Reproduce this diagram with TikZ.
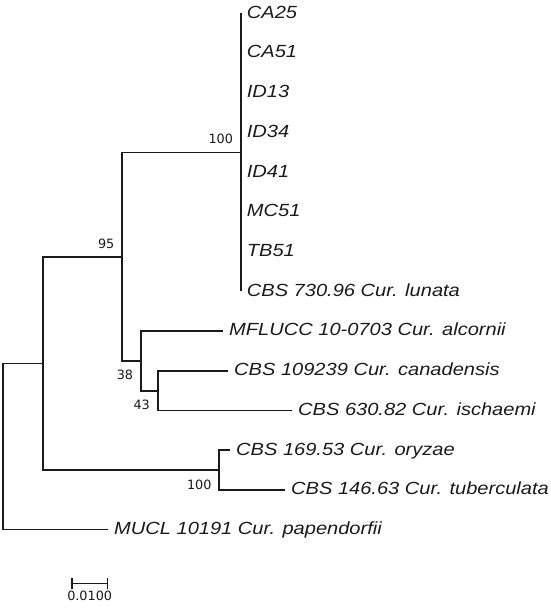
\documentclass[tikz,border=0pt]{standalone}
\usepackage{fontspec}
\newfontfamily\leaffont[FakeStretch=1.14]{Liberation Sans}
\newfontfamily\bootfont{DejaVu Sans}
\usetikzlibrary{arrows.meta,positioning}
\definecolor{treegray}{HTML}{1A1A1A}
\tikzset{
  branch/.style={line width=1.7pt, draw=treegray},
  scalebar/.style={{Bar[width=11pt]}-{Bar[width=11pt]}, line width=1.6pt, draw=treegray},
}

\begin{document}
\begin{tikzpicture}[
  x=1pt, y=-1pt,
  leaf/.style={anchor=west, inner xsep=6pt, inner ysep=0pt, text height=12.6pt, text depth=3pt,
    font=\leaffont\itshape\fontsize{17.6}{20}\selectfont, text=treegray},
  boot/.style={inner sep=0pt, font=\bootfont\fontsize{12.8}{14}\selectfont, text=treegray},
]
  \useasboundingbox (0,0) rectangle (550,610);
  \foreach \n/\t [count=\i from 0] in {ca25/CA25, ca51/CA51, id13/ID13, id34/ID34, id41/ID41,
      mc51/MC51, tb51/TB51, cbs73096/CBS 730.96 Cur. lunata}
    \node[leaf] (\n) at (240.7, 13.5+39.7*\i) {\t};
  \node[leaf] (mflucc) at (223,331.1) {MFLUCC 10-0703 Cur. alcornii};
  \node[leaf] (cbs109239) at (228,370.8) {CBS 109239 Cur. canadensis};
  \node[leaf] (cbs63082) at (292,410.5) {CBS 630.82 Cur. ischaemi};
  \node[leaf] (cbs16953) at (230,450.2) {CBS 169.53 Cur. oryzae};
  \node[leaf] (cbs14663) at (285,489.9) {CBS 146.63 Cur. tuberculata};
  \node[leaf] (mucl) at (108,529.6) {MUCL 10191 Cur. papendorfii};

  \coordinate (n100a) at (240.7,152.45);
  \coordinate (n95) at (122,256.7);
  \coordinate (n38) at (141,360.9);
  \coordinate (n43) at (158.3,390.65);
  \coordinate (n100b) at (219,470.05);
  \coordinate (nin) at (43,363.4);
  \coordinate (root) at (3,446.5);

  \foreach \n in {ca25,ca51,id13,id34,id41,mc51,tb51,cbs73096}
    \draw[branch] (n100a) |- (\n.west);
  \draw[branch] (n95) |- (n100a);
  \draw[branch] (n95) |- (n38);
  \draw[branch] (n38) |- (mflucc.west);
  \draw[branch] (n38) |- (n43);
  \draw[branch] (n43) |- (cbs109239.west);
  \draw[branch] (n43) |- (cbs63082.west);
  \draw[branch] (n100b) |- (cbs16953.west);
  \draw[branch] (n100b) |- (cbs14663.west);
  \draw[branch] (nin) |- (n95);
  \draw[branch] (nin) |- (n100b);
  \draw[branch] (root) |- (nin);
  \draw[branch] (root) |- (mucl.west);

  \node[boot, above left=8.5pt and 7.5pt of n100a] (bs100a) {100};
  \node[boot, above left=7.5pt and 7.5pt of n95] (bs95) {95};
  \node[boot, below left=8.5pt and 7.7pt of n38] (bs38) {38};
  \node[boot, below left=9.3pt and 8.3pt of n43] (bs43) {43};
  \node[boot, below left=9.3pt and 7.3pt of n100b] (bs100b) {100};

  \coordinate (sbl) at (71,583.3);
  \coordinate (sbr) at (108.3,583.3);
  \draw[scalebar] (sbl) -- node[boot, below=6.7pt] (sblabel) {0.0100} (sbr);
\end{tikzpicture}
\end{document}
